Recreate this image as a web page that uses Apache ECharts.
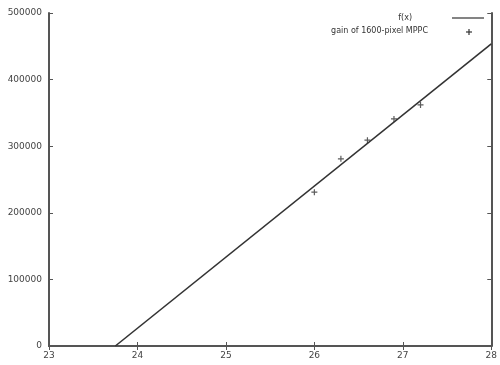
<!DOCTYPE html>
<html>
<head>
<meta charset="utf-8">
<script src="https://cdn.jsdelivr.net/npm/echarts@6/dist/echarts.min.js"></script>
<style>
  html, body { margin: 0; padding: 0; background: #fff; }
  #chart { width: 500px; height: 365px; }
</style>
</head>
<body>
<div id="chart"></div>
<script>
// measured points (gain vs voltage)
var gainX = [26.0, 26.3, 26.6, 26.9, 27.2];
var gainY = [231000, 281000, 309000, 341000, 362000];
// fitted line f(x), endpoints inside the plot
var fitX = [23.75, 28];
var fitY = [0, 453500];

var xTicks = [23, 24, 25, 26, 27, 28];
var yTicks = [0, 100000, 200000, 300000, 400000, 500000];

var chart = echarts.init(document.getElementById('chart'));

var plus = 'path://M0,5 L10,5 M5,0 L5,10';
var labelStyle = { color: '#444', fontSize: 9, fontFamily: 'DejaVu Sans' };
var borderLine = { lineStyle: { color: '#555', width: 2 } };
var tick = { inside: true, length: 4, lineStyle: { color: '#555', width: 1 } };
var keyFont = { fill: '#333', fontSize: 8, fontFamily: 'DejaVu Sans' };

chart.setOption({
  animation: false,
  grid: { left: 49, right: 8, top: 13, bottom: 19 },
  // key, drawn like gnuplot's: text right-aligned, sample on its right
  graphic: [
    { type: 'text', right: 88, top: 14, style: Object.assign({ text: 'f(x)' }, keyFont) },
    { type: 'line', shape: { x1: 452, y1: 18, x2: 484, y2: 18 }, style: { stroke: '#333', lineWidth: 1.2 } },
    { type: 'text', right: 72, top: 27, style: Object.assign({ text: 'gain of 1600-pixel MPPC' }, keyFont) },
    { type: 'line', shape: { x1: 466, y1: 32, x2: 472, y2: 32 }, style: { stroke: '#333', lineWidth: 1.2 } },
    { type: 'line', shape: { x1: 469, y1: 29, x2: 469, y2: 35 }, style: { stroke: '#333', lineWidth: 1.2 } }
  ],
  xAxis: [
    {
      type: 'value', min: xTicks[0], max: xTicks[xTicks.length - 1], interval: 1,
      axisLine: borderLine, axisTick: tick, splitLine: { show: false },
      axisLabel: Object.assign({ margin: 5 }, labelStyle)
    },
    {
      type: 'value', position: 'top', min: xTicks[0], max: xTicks[xTicks.length - 1], interval: 1,
      axisLine: borderLine, axisTick: tick, splitLine: { show: false },
      axisLabel: { show: false }
    }
  ],
  yAxis: [
    {
      type: 'value', min: yTicks[0], max: yTicks[yTicks.length - 1], interval: 100000,
      axisLine: borderLine, axisTick: tick, splitLine: { show: false },
      axisLabel: Object.assign({ margin: 7, formatter: function (v) { return String(v); } }, labelStyle)
    },
    {
      type: 'value', position: 'right', min: yTicks[0], max: yTicks[yTicks.length - 1], interval: 100000,
      axisLine: borderLine, axisTick: tick, splitLine: { show: false },
      axisLabel: { show: false }
    }
  ],
  series: [
    {
      name: 'f(x)',
      type: 'line',
      data: fitX.map(function (x, i) { return [x, fitY[i]]; }),
      symbol: 'none',
      lineStyle: { color: '#333', width: 1.6 }
    },
    {
      name: 'gain of 1600-pixel MPPC',
      type: 'scatter',
      data: gainX.map(function (x, i) { return [x, gainY[i]]; }),
      symbol: plus,
      symbolSize: 6,
      itemStyle: { color: 'none', borderColor: '#333', borderWidth: 1.2 }
    }
  ]
});
</script>
</body>
</html>
